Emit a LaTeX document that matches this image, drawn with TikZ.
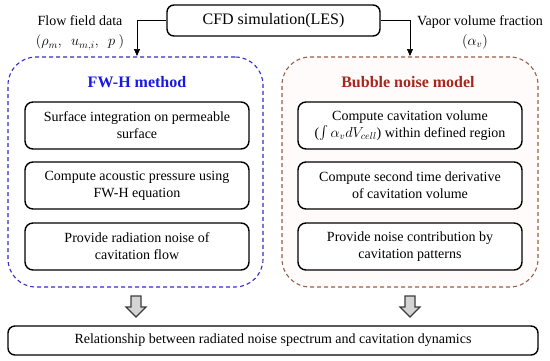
\documentclass[tikz,border=0pt]{standalone}
\usepackage{fontspec}
\setmainfont{Liberation Serif}
\usetikzlibrary{arrows.meta}
\definecolor{blueline}{RGB}{55,45,200}
\definecolor{bluetitle}{RGB}{25,25,225}
\definecolor{redline}{RGB}{150,95,75}
\definecolor{redtitle}{RGB}{165,40,30}
\definecolor{pinkfill}{RGB}{255,251,251}
\definecolor{arrowfill}{RGB}{212,212,212}
\definecolor{arrowline}{RGB}{60,60,60}
\tikzset{
  stepbox/.style={draw=black, fill=white, line width=1.4pt, rounded corners=8pt, minimum width=224pt, minimum height=47pt, inner sep=0pt, align=center, font=\fontsize{14}{17}\selectfont},
  groupbox/.style={line width=1.1pt, dash pattern=on 4pt off 3pt, rounded corners=28pt, minimum height=230pt, inner sep=0pt},
  conn/.style={draw=black, line width=0.7pt, -{Triangle[length=7pt,width=6pt]}},
  lbl/.style={align=center, font=\fontsize{14}{20}\selectfont, inner sep=0pt},
  ttl/.style={font=\fontsize{16}{18}\selectfont\bfseries, inner sep=0pt},
  hollow/.style={draw=arrowline, fill=arrowfill, line width=1.1pt, line join=miter}
}
\begin{document}
\begin{tikzpicture}[x=1pt,y=-1pt]
\useasboundingbox[fill=white] (0,0) rectangle (550,360);
% group boxes
\node[groupbox, draw=blueline, minimum width=255pt] (fwh) at (135.5,172) {};
\node[groupbox, draw=redline, fill=pinkfill, minimum width=256pt] (bub) at (410,172) {};
% top box
\node[draw=black, line width=1.4pt, rounded corners=7pt, minimum width=213pt, minimum height=31pt, inner sep=0pt, font=\fontsize{16}{18}\selectfont] (cfd) at (273.5,20.5) {CFD simulation(LES)};
% titles
\node[ttl, text=bluetitle] (fwht) at (137,82) {FW-H method};
\node[ttl, text=redtitle] (bubt) at (408,82) {Bubble noise model};
% left steps
\node[stepbox] (l1) at (137,125.5) {Surface integration on permeable\\surface};
\node[stepbox] (l2) at (137,185.5) {Compute acoustic pressure using\\FW-H equation};
\node[stepbox] (l3) at (137,246.5) {Provide radiation noise of\\cavitation flow};
% right steps
\node[stepbox] (r1) at (410,125.5) {Compute cavitation volume\\($\raisebox{-1pt}{\scalebox{1.35}{$\int$}}\,\alpha_v dV_{cell}$) within defined region};
\node[stepbox] (r2) at (410,185.5) {Compute second time derivative\\of cavitation volume};
\node[stepbox] (r3) at (410,246.5) {Provide noise contribution by\\cavitation patterns};
% bottom box
\node[draw=black, line width=1.4pt, rounded corners=7pt, minimum width=530pt, minimum height=29pt, inner sep=0pt, font=\fontsize{14}{17}\selectfont] (res) at (273,340.5) {Relationship between radiated noise spectrum and cavitation dynamics};
% labels
\node[lbl] (flow) at (80,33) {Flow field data\\$(\rho_m,\ \ u_{m,i},\ \ p\ )$};
\node[lbl] (vap) at (480,32.5) {Vapor volume fraction\\\hspace*{-10pt}$(\alpha_v)$};
% connectors
\coordinate (ltip) at (137,56);
\coordinate (rtip) at (410,56);
\draw[conn] (cfd.west) -| (ltip);
\draw[conn] (cfd.east) -| (rtip);
% hollow arrows
\coordinate (la) at (136,296);
\coordinate (ra) at (410,296);
\draw[hollow, shift={(la)}] (-5,0) -- (5,0) -- (5,11) -- (10,11) -- (0,21) -- (-10,11) -- (-5,11) -- cycle;
\draw[hollow, shift={(ra)}] (-5,0) -- (5,0) -- (5,11) -- (10,11) -- (0,21) -- (-10,11) -- (-5,11) -- cycle;
\end{tikzpicture}
\end{document}
